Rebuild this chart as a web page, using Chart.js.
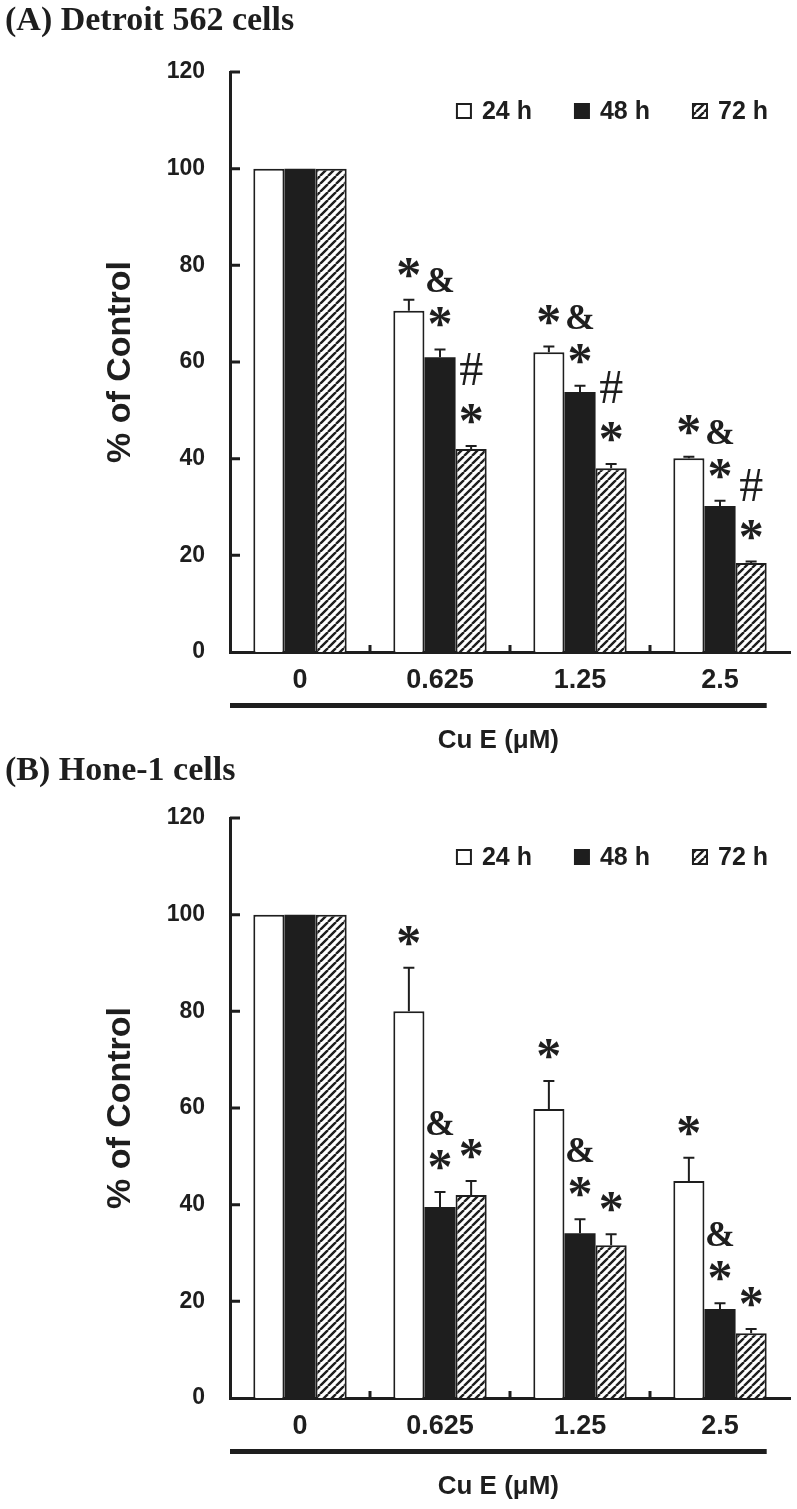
<!DOCTYPE html>
<html>
<head>
<meta charset="utf-8">
<script src="https://cdn.jsdelivr.net/npm/chart.js@4.4.0/dist/chart.umd.min.js"></script>
<style>
  html, body { margin: 0; padding: 0; background: #fff; }
  .panel { position: absolute; left: 0; width: 797px; }
  #panelA { top: 0; height: 762px; }
  #panelB { top: 746px; height: 763px; }
</style>
</head>
<body>
<div class="panel" id="panelA"><canvas id="chartA"></canvas></div>
<div class="panel" id="panelB"><canvas id="chartB"></canvas></div>
<script>
const doses = ['0', '0.625', '1.25', '2.5'];
const seriesNames = ['24 h', '48 h', '72 h'];
const yTicks = [0, 20, 40, 60, 80, 100, 120];

// (A) Detroit 562 cells
const detroit24 = [100, 70.6, 62.0, 40.1];
const detroit48 = [100, 61.0, 53.8, 30.2];
const detroit72 = [100, 42.0, 38.0, 18.4];
const detroit24Err = [0, 2.3, 1.2, 0.3];
const detroit48Err = [0, 1.6, 1.3, 1.1];
const detroit72Err = [0, 0.6, 0.9, 0.3];
// significance marks, listed bottom to top
const detroit24Marks = [[], ['*'], ['*'], ['*']];
const detroit48Marks = [[], ['*', '&'], ['*', '&'], ['*', '&']];
const detroit72Marks = [[], ['*', '#'], ['*', '#'], ['*', '#']];

// (B) Hone-1 cells
const hone24 = [100, 80.0, 59.8, 44.9];
const hone48 = [100, 39.5, 34.1, 18.4];
const hone72 = [100, 42.0, 31.6, 13.4];
const hone24Err = [0, 9.0, 5.8, 4.8];
const hone48Err = [0, 3.1, 2.9, 1.2];
const hone72Err = [0, 2.9, 2.3, 0.9];
const hone24Marks = [[], ['*'], ['*'], ['*']];
const hone48Marks = [[], ['*', '&'], ['*', '&'], ['*', '&']];
const hone72Marks = [[], ['*'], ['*'], ['*']];

const INK = '#1e1e1e';
const SANS = '"Liberation Sans", Arial, sans-serif';
const SERIF = '"Liberation Serif", "Times New Roman", serif';

function hatchPattern() {
  const p = 8;
  const c = document.createElement('canvas');
  c.width = p; c.height = p;
  const g = c.getContext('2d');
  g.fillStyle = '#fff';
  g.fillRect(0, 0, p, p);
  g.strokeStyle = INK;
  g.lineWidth = 2.4;
  g.beginPath();
  for (let k = -1; k <= 1; k++) {
    g.moveTo(k * p, p);
    g.lineTo(k * p + p, 0);
  }
  g.stroke();
  return g.createPattern(c, 'repeat');
}
const hatch = hatchPattern();

// error bars (upper half only)
const errorBars = {
  id: 'errorBars',
  afterDatasetsDraw(chart) {
    const ctx = chart.ctx, y = chart.scales.y;
    ctx.save();
    ctx.strokeStyle = INK;
    ctx.lineWidth = 2;
    chart.data.datasets.forEach((ds, i) => {
      chart.getDatasetMeta(i).data.forEach((bar, j) => {
        const e = ds.errors[j];
        if (!e) return;
        const top = y.getPixelForValue(ds.data[j] + e);
        ctx.beginPath();
        ctx.moveTo(bar.x, bar.y);
        ctx.lineTo(bar.x, top);
        ctx.moveTo(bar.x - 5.5, top);
        ctx.lineTo(bar.x + 5.5, top);
        ctx.stroke();
      });
    });
    ctx.restore();
  }
};

// *, & and # above the bars
const markFonts = {
  '*': 'bold 50px ' + SERIF,
  '&': 'bold 36px ' + SERIF,
  '#': '48px ' + SERIF
};
const sigMarks = {
  id: 'sigMarks',
  afterDatasetsDraw(chart) {
    const ctx = chart.ctx, y = chart.scales.y;
    ctx.save();
    ctx.fillStyle = INK;
    ctx.textAlign = 'center';
    ctx.textBaseline = 'alphabetic';
    chart.data.datasets.forEach((ds, i) => {
      chart.getDatasetMeta(i).data.forEach((bar, j) => {
        let yc = y.getPixelForValue(ds.data[j] + (ds.errors[j] || 0)) - 32;
        ds.marks[j].forEach((m, k) => {
          if (k > 0) yc -= (m === '#' ? 45 : 37);
          ctx.font = markFonts[m];
          const tm = ctx.measureText(m);
          ctx.fillText(m, bar.x, yc + (tm.actualBoundingBoxAscent - tm.actualBoundingBoxDescent) / 2);
        });
      });
    });
    ctx.restore();
  }
};

// inward ticks, underline bar and the x title
const axisExtras = {
  id: 'axisExtras',
  afterDraw(chart) {
    const {ctx, chartArea: a, scales: {x, y}} = chart;
    ctx.save();
    ctx.strokeStyle = INK;
    ctx.lineWidth = 3;
    ctx.beginPath();
    y.ticks.forEach(t => {
      if (t.value === 0) return;
      const py = y.getPixelForValue(t.value);
      ctx.moveTo(a.left, py);
      ctx.lineTo(a.left + 10, py);
    });
    for (let i = 0; i < x.ticks.length - 1; i++) {
      const px = (x.getPixelForTick(i) + x.getPixelForTick(i + 1)) / 2;
      ctx.moveTo(px, a.bottom);
      ctx.lineTo(px, a.bottom - 7);
    }
    ctx.stroke();

    const metaLast = chart.getDatasetMeta(chart.data.datasets.length - 1);
    const lastBar = metaLast.data[metaLast.data.length - 1];
    const right = lastBar.x + lastBar.width / 2;
    ctx.fillStyle = INK;
    ctx.fillRect(a.left, a.bottom + 51, right - a.left, 5);

    ctx.font = 'bold 26px ' + SANS;
    ctx.textAlign = 'center';
    ctx.textBaseline = 'middle';
    ctx.fillText('Cu E (\u03bcM)', (a.left + right) / 2, a.bottom + 89);
    ctx.restore();
  }
};

// legend drawn inside the plot area
const insideLegend = {
  id: 'insideLegend',
  afterDraw(chart) {
    const {ctx, chartArea: a} = chart;
    ctx.save();
    ctx.font = 'bold 25px ' + SANS;
    ctx.textBaseline = 'middle';
    const box = 16, gapText = 10, gapItem = 42;
    const items = chart.data.datasets.map(ds => ({ds, w: ctx.measureText(ds.label).width}));
    const total = items.reduce((s, it) => s + box + gapText + it.w, 0) + gapItem * (items.length - 1);
    let x = a.right - 22 - total;
    const yc = a.top + 39;
    items.forEach(({ds, w}) => {
      ctx.fillStyle = ds.backgroundColor;
      ctx.fillRect(x, yc - box / 2, box, box);
      if (ds.borderWidth) {
        ctx.strokeStyle = INK;
        ctx.lineWidth = 2;
        ctx.strokeRect(x + 1, yc - box / 2 + 1, box - 2, box - 2);
      }
      ctx.fillStyle = INK;
      ctx.fillText(ds.label, x + box + gapText, yc + 1);
      x += box + gapText + w + gapItem;
    });
    ctx.restore();
  }
};

function makePanel(id, title, titleTop, values, errors, marks) {
  const styles = [
    {backgroundColor: '#ffffff', borderWidth: 2},
    {backgroundColor: INK, borderWidth: 0},
    {backgroundColor: hatch, borderWidth: 2}
  ];
  const datasets = values.map((v, i) => ({
    label: seriesNames[i],
    data: v,
    errors: errors[i],
    marks: marks[i],
    backgroundColor: styles[i].backgroundColor,
    borderColor: INK,
    borderWidth: styles[i].borderWidth,
    categoryPercentage: 0.667,
    barPercentage: 1.0
  }));

  return new Chart(document.getElementById(id), {
    type: 'bar',
    data: { labels: doses, datasets: datasets },
    options: {
      responsive: true,
      maintainAspectRatio: false,
      animation: false,
      layout: { padding: { left: 5, right: 7, top: 0, bottom: 0 } },
      plugins: {
        legend: { display: false },
        tooltip: { enabled: false },
        title: {
          display: true,
          text: title,
          align: 'start',
          color: INK,
          font: { family: SERIF, weight: 'bold', size: 34 },
          padding: { top: titleTop, bottom: 72 - 40.8 - titleTop }
        }
      },
      scales: {
        x: {
          type: 'category',
          z: 1,
          grid: { display: false, drawTicks: false },
          border: { display: true, width: 3, color: INK },
          ticks: { color: INK, padding: 12, font: { family: SANS, weight: 'bold', size: 27 } },
          afterFit(s) { s.height = s.chart.height - 652; }
        },
        y: {
          min: 0,
          max: 120,
          z: 1,
          grid: { display: false, drawTicks: false },
          border: { display: true, width: 3, color: INK },
          afterBuildTicks(s) { s.ticks = yTicks.map(v => ({ value: v })); },
          ticks: { color: INK, padding: 25, font: { family: SANS, weight: 'bold', size: 23 } },
          title: {
            display: true,
            text: '% of Control',
            color: INK,
            font: { family: SANS, weight: 'bold', size: 34 },
            padding: { top: 95, bottom: 0 }
          },
          afterFit(s) { s.width = 225; }
        }
      }
    },
    plugins: [errorBars, sigMarks, axisExtras, insideLegend]
  });
}

makePanel('chartA', '(A) Detroit 562 cells', 1,
  [detroit24, detroit48, detroit72],
  [detroit24Err, detroit48Err, detroit72Err],
  [detroit24Marks, detroit48Marks, detroit72Marks]);

makePanel('chartB', '(B) Hone-1 cells', 5,
  [hone24, hone48, hone72],
  [hone24Err, hone48Err, hone72Err],
  [hone24Marks, hone48Marks, hone72Marks]);
</script>
</body>
</html>
